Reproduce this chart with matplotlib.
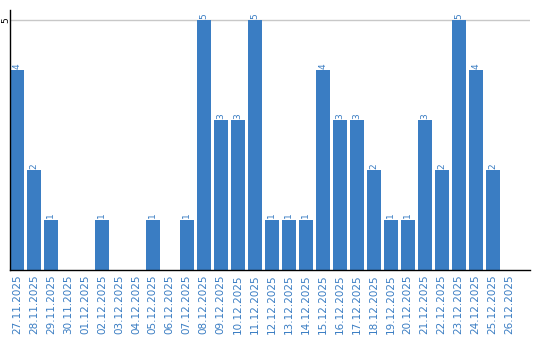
import matplotlib
matplotlib.use('Agg')
import matplotlib.pyplot as plt

dates = ['27.11.2025', '28.11.2025', '29.11.2025', '30.11.2025', '01.12.2025',
         '02.12.2025', '03.12.2025', '04.12.2025', '05.12.2025', '06.12.2025',
         '07.12.2025', '08.12.2025', '09.12.2025', '10.12.2025', '11.12.2025',
         '12.12.2025', '13.12.2025', '14.12.2025', '15.12.2025', '16.12.2025',
         '17.12.2025', '18.12.2025', '19.12.2025', '20.12.2025', '21.12.2025',
         '22.12.2025', '23.12.2025', '24.12.2025', '25.12.2025', '26.12.2025']
counts = [4, 2, 1, 0, 0, 1, 0, 0, 1, 0, 1, 5, 3, 3, 5,
          1, 1, 1, 4, 3, 3, 2, 1, 1, 3, 2, 5, 4, 2, 0]

blue = '#3a7dc3'

fig = plt.figure(figsize=(5.4, 3.4), dpi=100)
ax = fig.add_axes([10/540, 70/340, 520/540, 260/340])

x = list(range(len(dates)))
ax.bar(x, counts, width=0.82, color=blue, zorder=2)

# value labels above bars
for xi, v in zip(x, counts):
    if v > 0:
        ax.text(xi, v + 0.03, str(v), rotation=90, ha='center', va='bottom',
                color=blue, fontsize=6.5)

ax.set_xlim(-0.41, 30.2)
ax.set_ylim(0, 5.2)
ax.set_yticks([5])
ax.set_yticklabels(['5'], rotation=90, va='center', fontsize=6.5)
ax.yaxis.grid(True, color='#c8c8c8', linewidth=1, zorder=0)

ax.set_xticks(x)
ax.set_xticklabels(dates, rotation=90, color=blue, fontsize=7.5)
ax.tick_params(axis='both', length=0, pad=3)
ax.tick_params(axis='y', pad=0)

for s in ['top', 'right']:
    ax.spines[s].set_visible(False)
ax.spines['left'].set_linewidth(1.0)
ax.spines['bottom'].set_linewidth(1.0)

fig.savefig('out.png', dpi=100)
